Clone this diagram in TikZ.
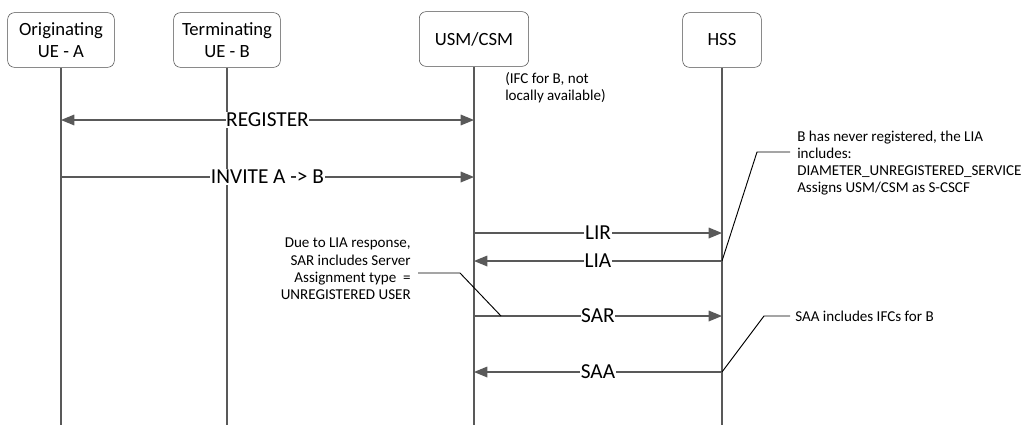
\documentclass[tikz,border=0pt]{standalone}
\usepackage{fontspec}
\setmainfont{Carlito}
\usetikzlibrary{arrows.meta, positioning}

\tikzset{
    entity/.style={draw=black!70, rounded corners=5pt, minimum height=41pt, inner sep=2pt, align=center, font=\fontsize{14}{17}\selectfont},
    life/.style={draw=black!65, line width=0.9pt},
    msg/.style={draw=black!65, line width=0.9pt, -{Triangle[length=10pt,width=8pt]}},
    msgboth/.style={msg, {Triangle[length=10pt,width=8pt]}-{Triangle[length=10pt,width=8pt]}},
    lbl/.style={fill=white, inner sep=0.5pt, font=\fontsize{16}{18}\selectfont},
    note/.style={inner sep=0pt, font=\fontsize{11.3}{12.8}\selectfont},
    callout/.style={draw=black, line width=0.7pt}
}

\begin{document}
\begin{tikzpicture}[x=0.75pt,y=-0.75pt]
    \useasboundingbox (0,0) rectangle (1032,425);

    % participants
    \node[entity, minimum width=80pt] (uea) at (61,40) {Originating\\UE - A};
    \node[entity, minimum width=80pt] (ueb) at (227,40) {Terminating\\UE - B};
    \node[entity, minimum width=82pt] (usm) at (474,39) {USM/CSM};
    \node[entity, minimum width=59pt] (hss) at (722,40) {HSS};

    % message rows
    \coordinate (r1) at (0,120);
    \coordinate (r2) at (0,177);
    \coordinate (r3) at (0,233);
    \coordinate (r4) at (0,261);
    \coordinate (r5) at (0,316);
    \coordinate (r6) at (0,372);
    \coordinate (bot) at (0,425);

    % lifelines
    \foreach \p in {uea, ueb, usm, hss}
        \draw[life] (\p.south) -- (\p |- bot);

    % messages
    \draw[msgboth] (uea |- r1) -- node[lbl] {REGISTER} (usm |- r1);
    \draw[msg] (uea |- r2) -- node[lbl] {INVITE A -> B} (usm |- r2);
    \draw[msg] (usm |- r3) -- node[lbl] {LIR} (hss |- r3);
    \draw[msg] (hss |- r4) -- node[lbl] {LIA} (usm |- r4);
    \draw[msg] (usm |- r5) -- node[lbl] {SAR} (hss |- r5);
    \draw[msg] (hss |- r6) -- node[lbl] {SAA} (usm |- r6);

    % notes
    \node[note, align=left, anchor=north west] (ifc) at (505,72) {(IFC for B, not\\locally available)};
    \node[note, align=left, anchor=north west] (lianote) at (797,131) {B has never registered, the LIA\\includes:\\DIAMETER\_UNREGISTERED\_SERVICE\\Assigns USM/CSM as S-CSCF};
    \node[note, align=right, anchor=north east] (sarnote) at (411,238) {Due to LIA response,\\SAR includes Server\\Assignment type \ =\\UNREGISTERED USER};
    \node[note, anchor=west] (saanote) at (795,316) {SAA includes IFCs for B};

    % callouts
    \coordinate (k1) at (757,152);
    \coordinate (k1e) at (790,152);
    \coordinate (k2) at (418,273);
    \coordinate (k2b) at (460,273);
    \coordinate (k2e) at (501,316);
    \coordinate (k3) at (764,316);
    \coordinate (k3e) at (790,316);
    \draw[callout] (hss |- r4) -- (k1) -- (k1e);
    \draw[callout] (k2) -- (k2b) -- (k2e);
    \draw[callout] (hss |- r6) -- (k3) -- (k3e);
\end{tikzpicture}
\end{document}
